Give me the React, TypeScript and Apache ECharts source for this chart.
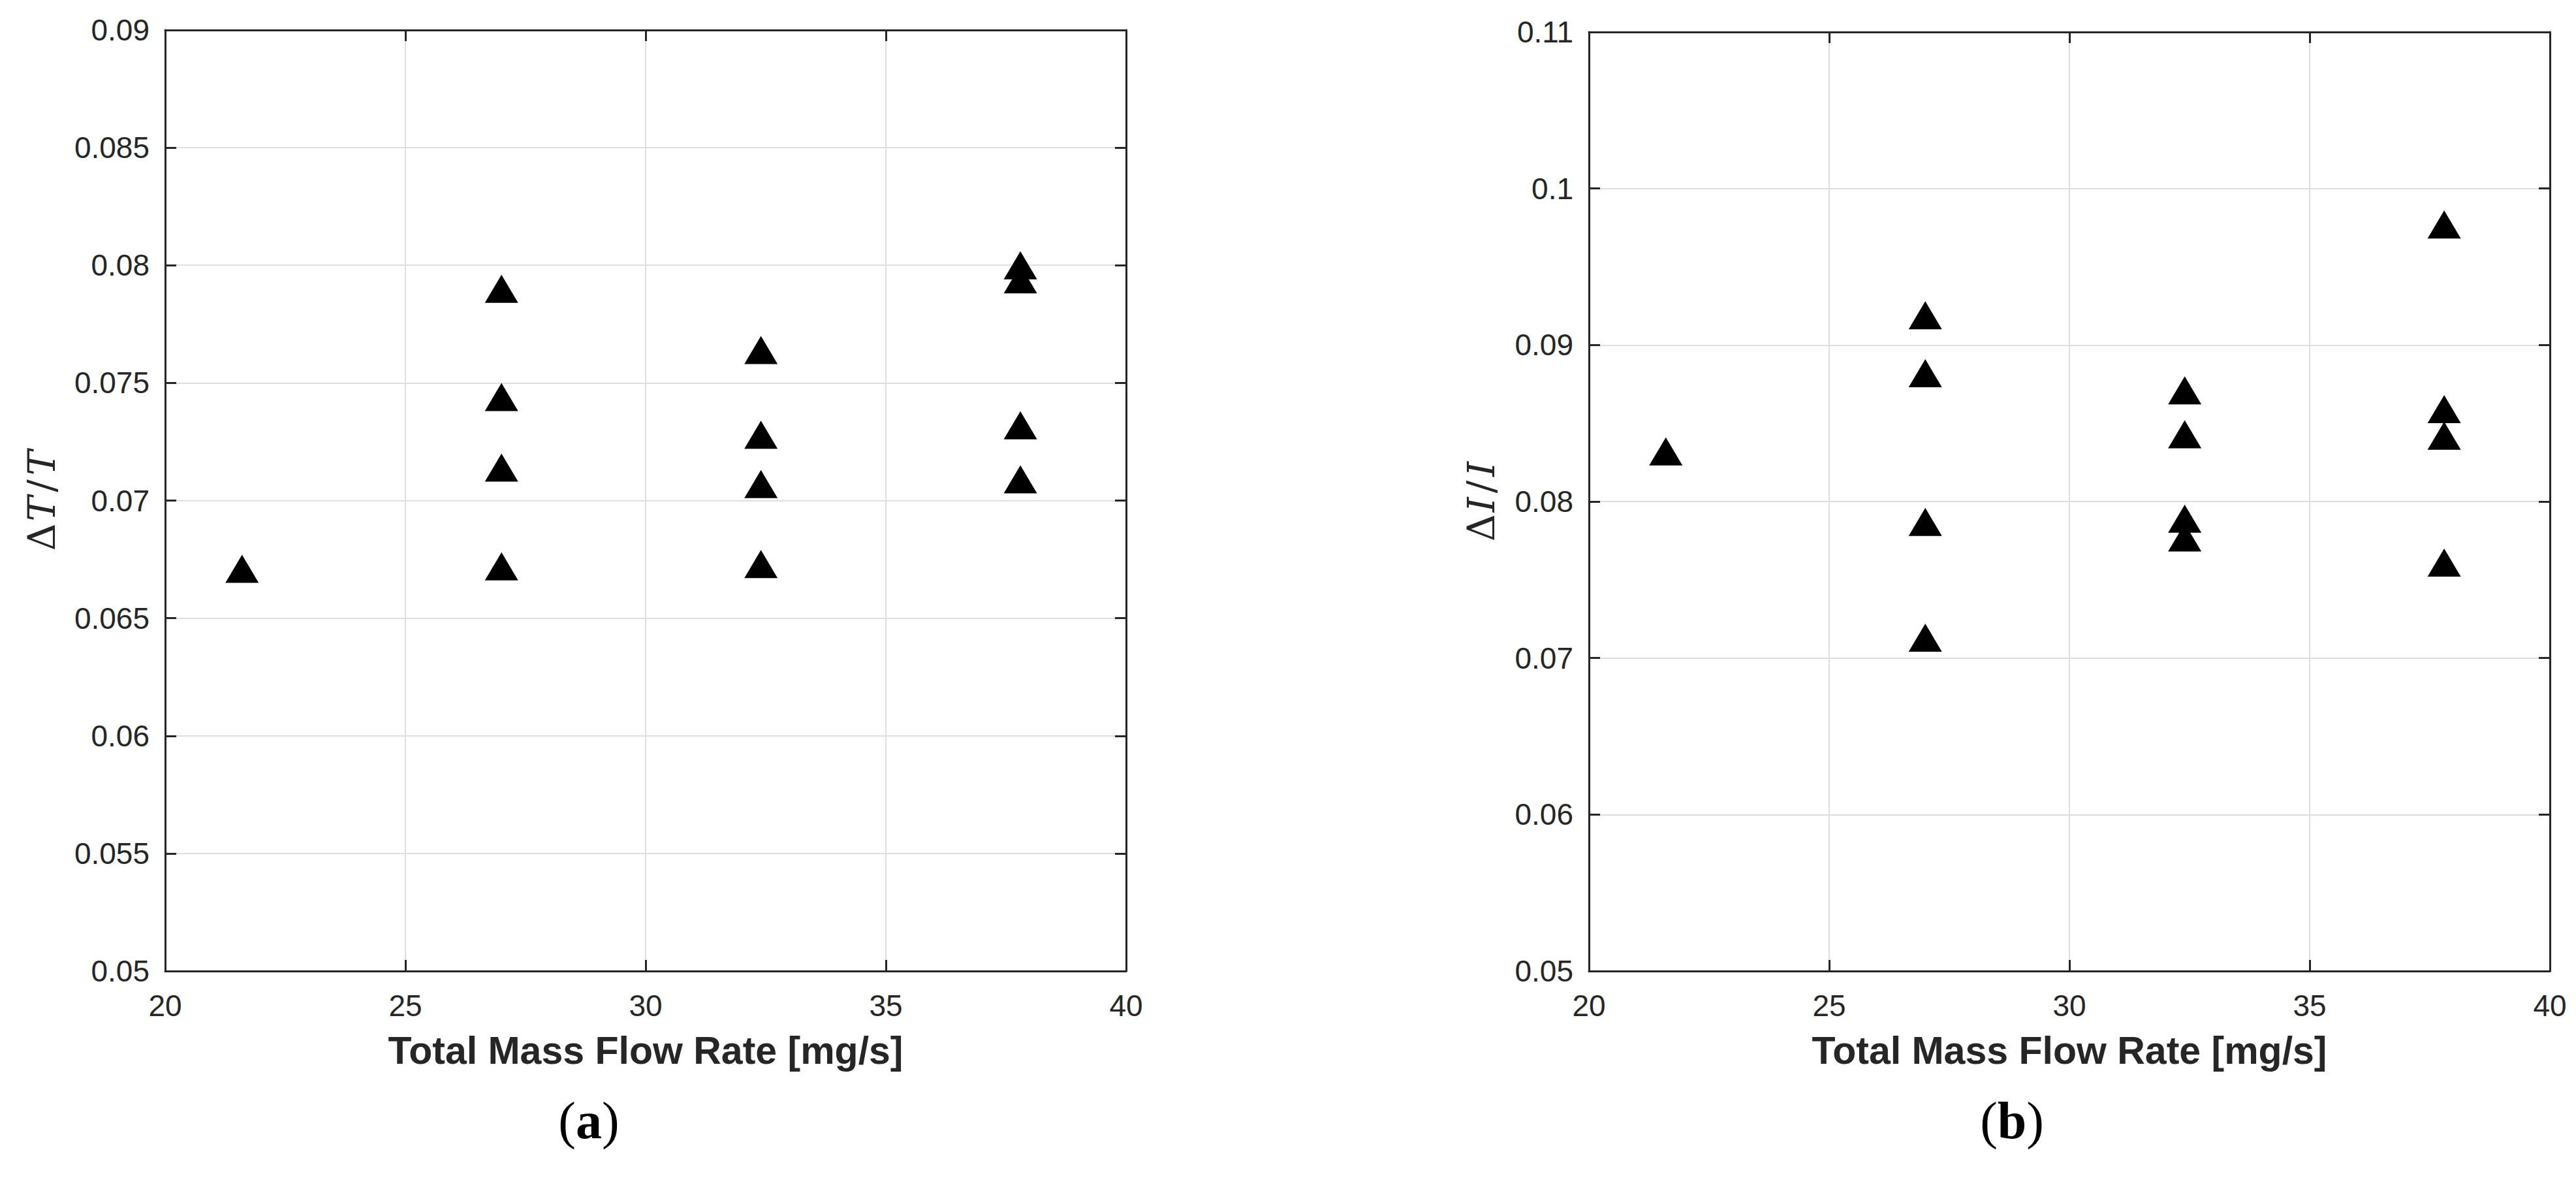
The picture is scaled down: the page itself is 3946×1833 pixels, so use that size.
import React, { useEffect, useRef } from "react";
import * as echarts from "echarts";

// Total mass flow rate [mg/s] for each measurement
const massFlow = [21.6, 27, 27, 27, 27, 32.4, 32.4, 32.4, 32.4, 37.8, 37.8, 37.8, 37.8];
// (a) ΔT/T
const dTT = [0.0671, 0.079, 0.0744, 0.0714, 0.0672, 0.0764, 0.0728, 0.0707, 0.0673, 0.08, 0.0794, 0.0732, 0.0709];
// (b) ΔI/I
const dII = [0.0832, 0.0919, 0.0882, 0.0787, 0.0713, 0.0871, 0.0843, 0.0789, 0.0777, 0.0977, 0.0859, 0.0842, 0.0761];

const xRange = { min: 20, max: 40, interval: 5 };
const yRangeA = { min: 0.05, max: 0.09, interval: 0.005 };
const yRangeB = { min: 0.05, max: 0.11, interval: 0.01 };
const xTitle = "Total Mass Flow Rate [mg/s]";
const captions = ["a", "b"];

const INK = "#262626";
const GRIDC = "#dedede";
const SANS = "Liberation Sans, Arial, Helvetica, sans-serif";
const SERIF = "DejaVu Serif, Liberation Serif, serif";

function zip(xs: number[], ys: number[]) {
  return xs.map((x, i) => [x, ys[i]]);
}

export default function App() {
  const ref = useRef<HTMLDivElement>(null);
  useEffect(() => {
    if (!ref.current) return;
    const chart = echarts.init(ref.current, null, { renderer: "svg" });

    const tick = { show: true, inside: true, length: 17, lineStyle: { color: INK, width: 3 } };
    const line = { show: true, lineStyle: { color: INK, width: 3 } };
    const split = { show: true, lineStyle: { color: GRIDC, width: 2 } };
    const label = { fontSize: 46, color: INK, fontFamily: SANS };

    const mkX = (g: number) => [
      {
        gridIndex: g, type: "value", position: "bottom", ...xRange,
        axisLine: line, axisTick: tick, splitLine: split,
        axisLabel: { ...label, margin: 30 },
        name: xTitle, nameLocation: "middle", nameGap: 92,
        nameTextStyle: { fontSize: 59, fontWeight: "bold", color: INK, fontFamily: SANS },
      },
      {
        gridIndex: g, type: "value", position: "top", ...xRange,
        axisLine: line, axisTick: tick, splitLine: { show: false }, axisLabel: { show: false },
      },
    ];
    const yName = (v: string) => `{d|Δ}{i|${v}}{s|/}{i|${v}}`;
    const yRich = {
      d: { fontSize: 58, fontFamily: SERIF, color: INK, padding: [0, 3, 0, 0] },
      i: { fontSize: 58, fontFamily: SERIF, fontStyle: "italic", color: INK },
      s: { fontSize: 58, fontFamily: SERIF, color: INK, padding: [0, 6, 0, 6] },
    };
    const mkY = (g: number, r: any, v: string, gap: number) => [
      {
        gridIndex: g, type: "value", position: "left", ...r,
        axisLine: line, axisTick: tick, splitLine: split,
        axisLabel: { ...label, margin: 24 },
        name: yName(v), nameLocation: "middle", nameRotate: 90, nameGap: gap,
        nameTextStyle: { rich: yRich },
      },
      {
        gridIndex: g, type: "value", position: "right", ...r,
        axisLine: line, axisTick: tick, splitLine: { show: false }, axisLabel: { show: false },
      },
    ];

    const marker = {
      type: "scatter", symbol: "triangle", symbolSize: [51, 43],
      itemStyle: { color: "#000000", opacity: 1 }, z: 5,
    };

    chart.setOption({
      animation: false,
      backgroundColor: "#ffffff",
      grid: [
        { left: 253, top: 46, width: 1472, height: 1441 },
        { left: 2434, top: 49, width: 1472, height: 1438 },
      ],
      xAxis: [...mkX(0), ...mkX(1)],
      yAxis: [...mkY(0, yRangeA, "T", 160), ...mkY(1, yRangeB, "I", 136)],
      series: [
        { ...marker, xAxisIndex: 0, yAxisIndex: 0, data: zip(massFlow, dTT) },
        { ...marker, xAxisIndex: 2, yAxisIndex: 2, data: zip(massFlow, dII) },
      ],
      graphic: captions.map((c, i) => ({
        type: "text",
        x: i === 0 ? 902 : 3082,
        y: 1716,
        style: {
          text: `({b|${c}})`,
          font: `80px Liberation Serif`,
          fill: "#000000",
          align: "center",
          verticalAlign: "middle",
          rich: { b: { fontWeight: "bold", fontSize: 80, fontFamily: "Liberation Serif", fill: "#000000", color: "#000000" } },
        },
      })),
    });
    return () => chart.dispose();
  }, []);
  return (
    <div
      ref={ref}
      style={{ position: "fixed", left: 0, top: 0, width: 3946, height: 1833, background: "#fff" }}
    />
  );
}
